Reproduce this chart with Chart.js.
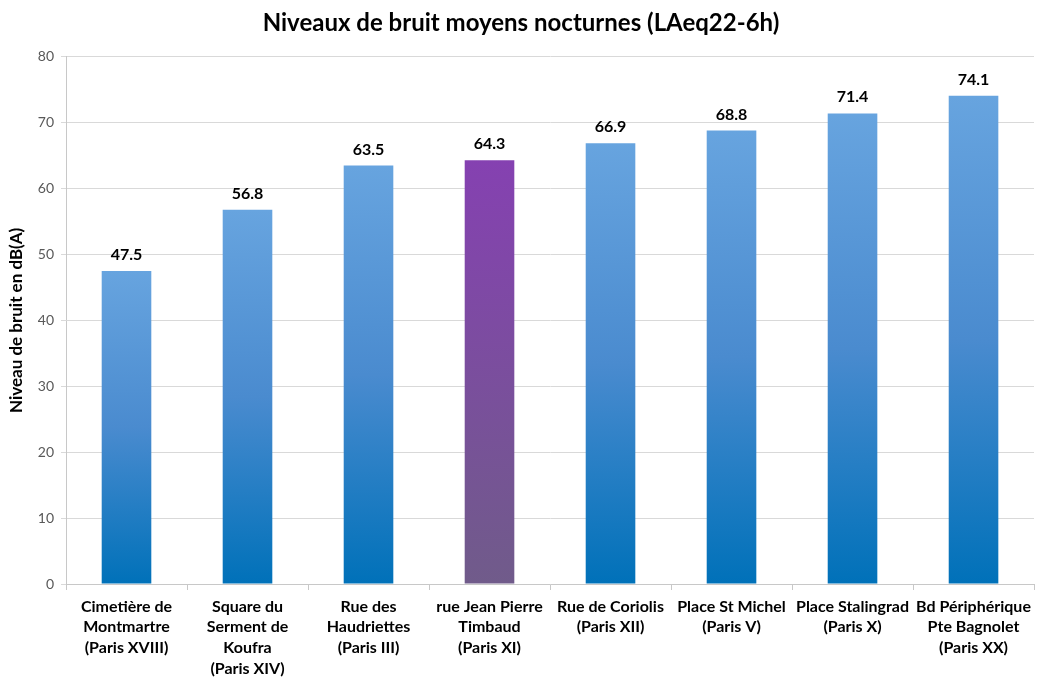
<!DOCTYPE html>
<html>
<head>
<meta charset="utf-8">
<script src="https://cdn.jsdelivr.net/npm/chart.js@4/dist/chart.umd.min.js"></script>
<style>
  html, body { margin: 0; padding: 0; background: #fff; }
  #wrap { width: 1037px; height: 677px; }
</style>
</head>
<body>
<div id="wrap"><canvas id="noiseChart" width="1037" height="677"></canvas></div>
<script>
// ---- data ----
const sites = [
  ['Cimetière de', 'Montmartre', '(Paris XVIII)'],
  ['Square du', 'Serment de', 'Koufra', '(Paris XIV)'],
  ['Rue des', 'Haudriettes', '(Paris III)'],
  ['rue Jean Pierre', 'Timbaud', '(Paris XI)'],
  ['Rue de Coriolis', '(Paris XII)'],
  ['Place St Michel', '(Paris V)'],
  ['Place Stalingrad', '(Paris X)'],
  ['Bd Périphérique', 'Pte Bagnolet', '(Paris XX)']
];
const noiseLevels = [47.5, 56.8, 63.5, 64.3, 66.9, 68.8, 71.4, 74.1];
const highlightIndex = 3;   // rue Jean Pierre Timbaud in purple
const yTicks = [0, 10, 20, 30, 40, 50, 60, 70, 80];

const FONT = "Lato, 'Open Sans', sans-serif";

// gradient per bar, light at the top, dark at the base
function barFill(context) {
  const chart = context.chart;
  const yScale = chart.scales.y;
  if (!yScale || context.parsed === undefined) return '#3d87cc';
  const top = yScale.getPixelForValue(context.parsed.y);
  const bottom = yScale.getPixelForValue(0);
  if (!isFinite(top) || !isFinite(bottom)) return '#3d87cc';
  const g = chart.ctx.createLinearGradient(0, top, 0, bottom);
  if (context.dataIndex === highlightIndex) {
    g.addColorStop(0, '#8541b1');
    g.addColorStop(1, '#705b8a');
  } else {
    g.addColorStop(0, '#67a4df');
    g.addColorStop(0.5, '#4a8bcf');
    g.addColorStop(1, '#0071b9');
  }
  return g;
}

// value labels above the bars
const valueLabels = {
  id: 'valueLabels',
  afterDatasetsDraw(chart) {
    const ctx = chart.ctx;
    const meta = chart.getDatasetMeta(0);
    ctx.save();
    ctx.font = 'bold 16px ' + FONT;
    ctx.fillStyle = '#000';
    ctx.textAlign = 'center';
    ctx.textBaseline = 'alphabetic';
    meta.data.forEach(function (bar, i) {
      ctx.fillText(noiseLevels[i].toFixed(1), bar.x, bar.y - 11);
    });
    ctx.restore();
  }
};

const chart = new Chart(document.getElementById('noiseChart').getContext('2d'), {
  type: 'bar',
  data: {
    labels: sites,
    datasets: [{
      label: 'LAeq22-6h',
      data: noiseLevels,
      backgroundColor: barFill,
      borderWidth: 0,
      categoryPercentage: 1,
      barPercentage: 0.41
    }]
  },
  options: {
    responsive: false,
    animation: false,
    layout: { padding: { left: 6, right: 1, top: 6, bottom: 0 } },
    plugins: {
      legend: { display: false },
      tooltip: { enabled: false },
      title: {
        display: true,
        text: 'Niveaux de bruit moyens nocturnes (LAeq22-6h)',
        color: '#000',
        font: { family: FONT, size: 24, weight: 'bold' },
        padding: { top: 3, bottom: 19 }
      }
    },
    scales: {
      x: {
        grid: {
          offset: true,
          drawOnChartArea: false,
          drawTicks: true,
          tickLength: 6,
          color: '#c8c8c8'
        },
        border: { display: true, color: '#c8c8c8' },
        ticks: {
          color: '#000',
          font: { family: FONT, size: 16, weight: 'bold', lineHeight: 1.3 },
          maxRotation: 0,
          autoSkip: false,
          padding: 6
        },
        afterFit: function (scale) { scale.height = 93; }
      },
      y: {
        min: 0,
        max: 80,
        afterBuildTicks: function (scale) {
          scale.ticks = yTicks.map(function (v) { return { value: v }; });
        },
        grid: { color: '#d9d9d9', tickLength: 5 },
        border: { display: true, color: '#c8c8c8' },
        ticks: {
          color: '#595959',
          font: { family: FONT, size: 14 },
          padding: 7
        },
        title: {
          display: true,
          text: 'Niveau de bruit en dB(A)',
          color: '#000',
          font: { family: FONT, size: 17, weight: 'bold' },
          padding: { top: 0, bottom: 4 }
        },
        afterFit: function (scale) { scale.width = 60; }
      }
    }
  },
  plugins: [valueLabels]
});
</script>
</body>
</html>
